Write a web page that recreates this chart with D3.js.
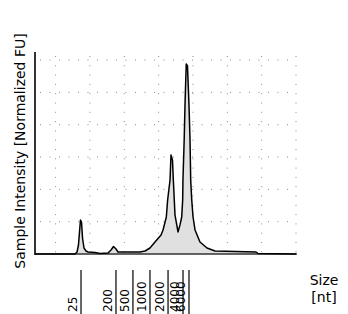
<!DOCTYPE html>
<html>
<head>
<meta charset="utf-8">
<script src="https://cdn.jsdelivr.net/npm/d3@7"></script>
<style>
  body { margin: 0; background: #fff; }
  text { font-family: "DejaVu Sans", sans-serif; fill: #000; }
</style>
</head>
<body>
<div id="chart"></div>
<script>
// migration time [s] and fluorescence [FU]
var times = [17.00, 22.82, 23.12, 23.33, 23.48, 23.62, 23.77, 23.92, 24.13, 24.43, 24.72,
  25.74, 26.46, 27.63, 28.07, 28.43, 28.79, 29.09, 32.29, 33.02, 33.74, 34.47, 35.35,
  35.64, 36.12, 36.31, 36.66, 36.80, 37.02, 37.14, 37.28, 37.38, 37.82, 38.11, 38.36,
  38.50, 38.54, 38.72, 38.84, 39.02, 39.20, 39.42, 39.57, 39.67, 39.82, 40.01, 40.30,
  41.02, 42.04, 43.21, 49.18, 49.47, 55.00];
var intensity = [0, 0, 0.62, 2.78, 6.81, 10.52, 9.90, 4.95, 1.86, 0.93, 0.62,
  0.46, 0.15, 0.31, 1.24, 2.32, 1.55, 0.62, 0.62, 0.93, 1.86, 3.72, 5.88,
  7.43, 11.45, 16.70, 22.90, 30.63, 29.0, 22.90, 16.70, 12.07, 6.81, 9.0, 11.45,
  16.70, 22.90, 35.27, 46.10, 58.79, 58.2, 46.10, 35.27, 22.90, 16.70, 11.45, 7.43,
  3.72, 1.86, 0.93, 0.62, 0.15, 0];

// ladder sizes [nt] and where they sit on the time axis
var ladderSizes = ["25", "200", "500", "1000", "2000", "4000", "6000"];
var ladderTimes = [23.70, 28.79, 31.26, 33.74, 36.37, 38.55, 39.42];

var gridTimes = [20, 25, 30, 35, 40, 45, 50, 55];
var gridFU = [10, 20, 30, 40, 50, 60];

function drawChart() {
    var width = 348, height = 314;
    var plotLeft = 35, plotRight = 296, plotTop = 52, plotBottom = 254;

    var svg = d3.select("#chart").append("svg")
        .attr("width", width)
        .attr("height", height);

    var x = d3.scaleLinear().domain([17, 55]).range([plotLeft, plotRight]);
    var y = d3.scaleLinear().domain([0, 62.5]).range([plotBottom, plotTop]);

    // dotted grid
    svg.append("g").selectAll("line")
        .data(gridTimes)
        .enter().append("line")
        .attr("x1", d => x(d)).attr("x2", d => x(d))
        .attr("y1", plotTop + 4).attr("y2", plotBottom)
        .attr("stroke", "#8a8a8a")
        .attr("stroke-width", 1)
        .attr("stroke-dasharray", "1,8.3");

    svg.append("g").selectAll("line")
        .data(gridFU)
        .enter().append("line")
        .attr("x1", plotLeft + 5).attr("x2", plotRight)
        .attr("y1", d => y(d)).attr("y2", d => y(d))
        .attr("stroke", "#8a8a8a")
        .attr("stroke-width", 1)
        .attr("stroke-dasharray", "1,8.5");

    var trace = times.map((t, i) => ({ t: t, v: intensity[i] }));

    var area = d3.area()
        .x(d => x(d.t))
        .y0(plotBottom)
        .y1(d => y(d.v));

    var line = d3.line()
        .x(d => x(d.t))
        .y(d => y(d.v));

    svg.append("path")
        .datum(trace)
        .attr("fill", "#e0e0e0")
        .attr("d", area);

    // axes as plain lines, no tick marks on the plot itself
    svg.append("line")
        .attr("x1", plotLeft).attr("x2", plotLeft)
        .attr("y1", plotTop).attr("y2", plotBottom + 1)
        .attr("stroke", "#333").attr("stroke-width", 2);

    svg.append("line")
        .attr("x1", plotLeft).attr("x2", plotRight + 1)
        .attr("y1", plotBottom).attr("y2", plotBottom)
        .attr("stroke", "#333").attr("stroke-width", 1.5);

    svg.append("path")
        .datum(trace)
        .attr("fill", "none")
        .attr("stroke", "#000")
        .attr("stroke-width", 1.5)
        .attr("stroke-linejoin", "round")
        .attr("d", line);

    // ladder ticks below the plot
    var ladder = svg.append("g");
    ladder.selectAll("line")
        .data(ladderTimes)
        .enter().append("line")
        .attr("x1", d => x(d)).attr("x2", d => x(d))
        .attr("y1", 270).attr("y2", height)
        .attr("stroke", "#000").attr("stroke-width", 1.2);

    ladder.selectAll("text")
        .data(ladderSizes)
        .enter().append("text")
        .attr("transform", (d, i) => `translate(${x(ladderTimes[i]) - 4},312) rotate(-90)`)
        .style("font-size", "12px")
        .text(d => d);

    svg.append("text")
        .attr("transform", "translate(25,151) rotate(-90)")
        .attr("text-anchor", "middle")
        .style("font-size", "14px")
        .text("Sample Intensity [Normalized FU]");

    svg.append("text")
        .attr("x", 324).attr("y", 285)
        .attr("text-anchor", "middle")
        .style("font-size", "14px")
        .text("Size");

    svg.append("text")
        .attr("x", 324).attr("y", 302)
        .attr("text-anchor", "middle")
        .style("font-size", "14px")
        .text("[nt]");
}

drawChart();
</script>
</body>
</html>
